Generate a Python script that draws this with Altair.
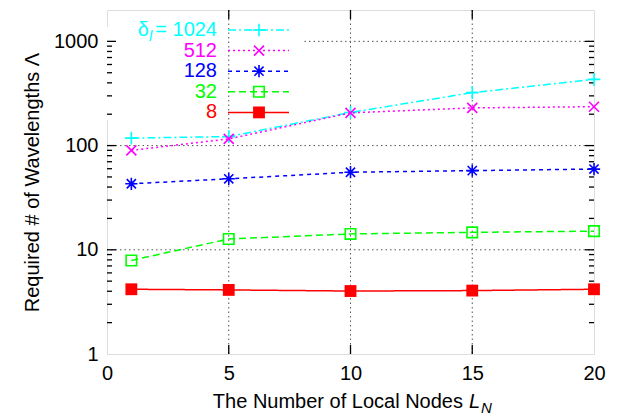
import altair as alt
import pandas as pd

# ---- data ----
nodes = [1, 5, 10, 15, 20]
s1024 = [118, 122, 208, 322, 432]
s512 = [90, 116, 206, 230, 236]
s128 = [43, 48, 55.5, 57.5, 59.5]
s32 = [7.9, 12.7, 14.2, 14.7, 15.1]
s8 = [4.18, 4.12, 4.02, 4.06, 4.18]
series_names = ["1024", "512", "128", "32", "8"]

x_tick_labels = [0, 5, 10, 15, 20]
y_tick_labels = [1, 10, 100, 1000]
x_major = [5, 10, 15]
y_major = [10, 100, 1000]
y_minor = [2, 3, 4, 5, 6, 7, 8, 9, 20, 30, 40, 50, 60, 70, 80, 90,
           200, 300, 400, 500, 600, 700, 800, 900]

# ---- styling ----
W, H = 487, 344
FONT = "Liberation Sans"
colors = ["#00ffff", "#ff00ff", "#0000ff", "#00ff00", "#ff0000"]
dashes = [[8, 3, 2, 3], [2, 3], [4, 4], [7, 4], [1, 0]]
PLUS = "M-1,0L1,0M0,-1L0,1"
CROSS = "M-1,-1L1,1M-1,1L1,-1"
STAR = "M-1,0L1,0M0,-1L0,1M-0.75,-0.75L0.75,0.75M-0.75,0.75L0.75,-0.75"
shapes = [PLUS, CROSS, STAR, "square", "square"]
sizes = [160, 100, 150, 110, 140]
filled = [False, False, False, False, True]

xs = alt.Scale(domain=[0, 20], nice=False, zero=False)
ys = alt.Scale(type="log", domain=[1, 2000], nice=False)
x_axis = alt.Axis(values=x_tick_labels, format="d", title=None, grid=False, ticks=False,
                  domain=False, labelFontSize=20, labelPadding=9, labelFont=FONT,
                  labelColor="black", labelFlush=False)
y_axis = alt.Axis(values=y_tick_labels, format="d", title="Required # of Wavelengths Λ",
                  grid=False, ticks=False, domain=False, labelFontSize=20, labelPadding=9,
                  labelFont=FONT, labelColor="black", labelFlush=False, titleFont=FONT,
                  titleFontSize=20, titleFontWeight="normal", titleColor="black",
                  titleX=-69, titleY=H / 2, titleAngle=270, titleAlign="center",
                  titleBaseline="alphabetic")


def X(field):
    return alt.X(field, type="quantitative", scale=xs, axis=x_axis)


def Y(field):
    return alt.Y(field, type="quantitative", scale=ys, axis=y_axis)


layers = []

# horizontal grid
hgrid = alt.Chart(pd.DataFrame({"v": y_major})).mark_rule(
    color="#555555", strokeDash=[1.5, 3], strokeWidth=1
).encode(y=Y("v"))
layers.append(hgrid)

# legend background (hides grid behind key)
layers.append(alt.Chart(pd.DataFrame({"a": [0]})).mark_rect(fill="white").encode(
    x=alt.value(0), x2=alt.value(195), y=alt.value(17), y2=alt.value(110)))

# vertical grid
vgrid = alt.Chart(pd.DataFrame({"v": x_major})).mark_rule(
    color="#555555", strokeDash=[1.5, 3], strokeWidth=1
).encode(x=X("v"))
layers.append(vgrid)

# ticks (inside, mirrored)
ymaj = pd.DataFrame({"v": y_major})
ymin = pd.DataFrame({"v": y_minor})
xmaj = pd.DataFrame({"v": x_major})
for df, L in [(ymaj, 9), (ymin, 5)]:
    layers.append(alt.Chart(df).mark_rule(color="black", strokeWidth=1.3).encode(
        y=Y("v"), x=alt.value(0), x2=alt.value(L)))
    layers.append(alt.Chart(df).mark_rule(color="black", strokeWidth=1.3).encode(
        y=Y("v"), x=alt.value(W - L), x2=alt.value(W)))
layers.append(alt.Chart(xmaj).mark_rule(color="black", strokeWidth=1.3).encode(
    x=X("v"), y=alt.value(H - 9), y2=alt.value(H)))
layers.append(alt.Chart(xmaj).mark_rule(color="black", strokeWidth=1.3).encode(
    x=X("v"), y=alt.value(0), y2=alt.value(9)))

# series
all_series = [s1024, s512, s128, s32, s8]
for i, (name, vals) in enumerate(zip(series_names, all_series)):
    df = pd.DataFrame({"x": nodes, "y": vals, "s": name})
    base = alt.Chart(df)
    layers.append(base.mark_line(color=colors[i], strokeDash=dashes[i], strokeWidth=1.5,
                                 clip=False).encode(x=X("x"), y=Y("y")))
    layers.append(base.mark_point(shape=shapes[i], size=sizes[i], filled=filled[i],
                                  color=colors[i], strokeWidth=1.6, opacity=1,
                                  clip=False).encode(x=X("x"), y=Y("y")))

# legend (key)
for i, name in enumerate(series_names):
    yy = 20 + 20.6 * i
    ldf = pd.DataFrame({"label": ["= " + name if i == 0 else name]})
    lc = alt.Chart(ldf)
    layers.append(lc.mark_text(align="right", baseline="middle", font=FONT, fontSize=20,
                               color=colors[i]).encode(
        text="label:N", x=alt.value(110), y=alt.value(yy)))
    layers.append(lc.mark_rule(color=colors[i], strokeDash=dashes[i], strokeWidth=1.5).encode(
        x=alt.value(121), x2=alt.value(182), y=alt.value(yy)))
    layers.append(lc.mark_point(shape=shapes[i], size=sizes[i], filled=filled[i],
                                color=colors[i], strokeWidth=1.6, opacity=1).encode(
        x=alt.value(152), y=alt.value(yy)))

# delta_l prefix for the first key entry
dl = alt.Chart(pd.DataFrame({"t": ["δ"], "s": ["l"]}))
layers.append(dl.mark_text(align="right", baseline="middle", font=FONT, fontSize=20,
                           color=colors[0]).encode(text="t:N", x=alt.value(42), y=alt.value(20)))
layers.append(dl.mark_text(align="left", baseline="middle", font=FONT, fontSize=15,
                           fontStyle="italic", color=colors[0]).encode(
    text="s:N", x=alt.value(42), y=alt.value(26)))

# x title with subscript
xt = alt.Chart(pd.DataFrame({"a": ["The Number of Local Nodes"], "b": ["L"], "c": ["N"]}))
layers.append(xt.mark_text(align="right", baseline="alphabetic", font=FONT, fontSize=20,
                           color="black").encode(text="a:N", x=alt.value(356), y=alt.value(H + 54)))
layers.append(xt.mark_text(align="left", baseline="alphabetic", font=FONT, fontSize=20,
                           fontStyle="italic", color="black").encode(
    text="b:N", x=alt.value(362), y=alt.value(H + 54)))
layers.append(xt.mark_text(align="left", baseline="alphabetic", font=FONT, fontSize=15,
                           fontStyle="italic", color="black").encode(
    text="c:N", x=alt.value(374), y=alt.value(H + 59)))

chart = alt.layer(*layers).properties(
    width=W, height=H,
    padding={"left": 99, "top": 2, "right": 16, "bottom": 62},
    autosize=alt.AutoSizeParams(type="none"),
).configure_view(stroke="black", strokeWidth=1.6).configure(background="white")

chart.save("out.html", embed_options={"renderer": "svg", "actions": False})
